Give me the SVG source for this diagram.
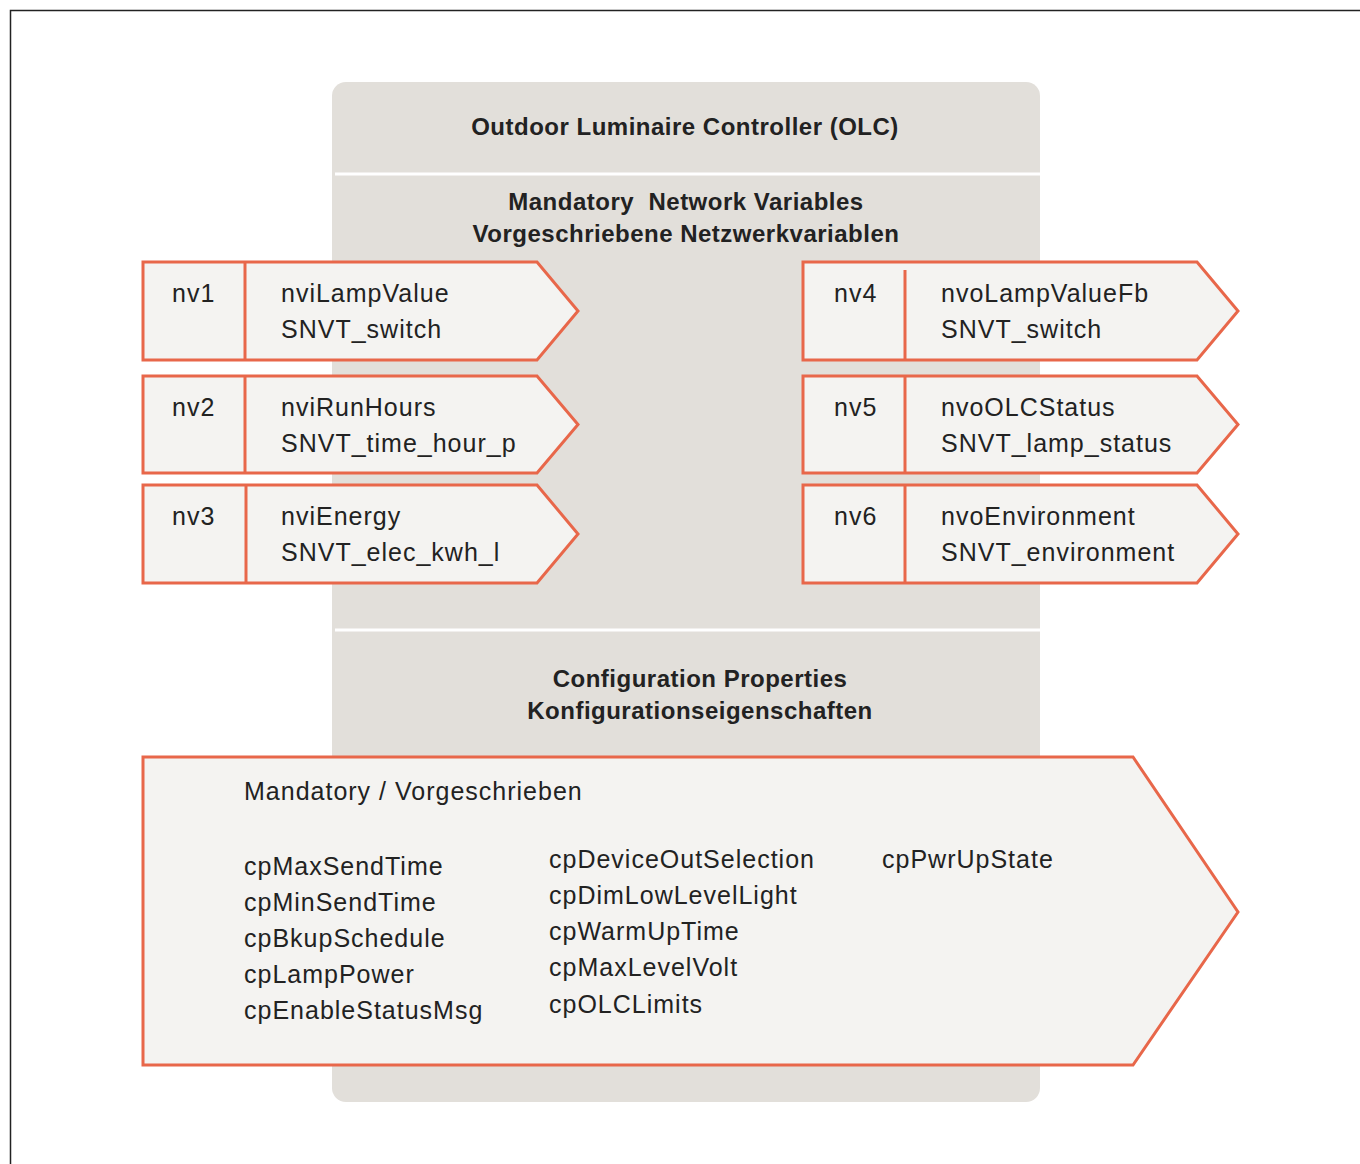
<svg xmlns="http://www.w3.org/2000/svg" width="1360" height="1164" viewBox="0 0 1360 1164">
<style>
.t{font-family:"Liberation Sans",Arial,sans-serif;font-size:25px;letter-spacing:1px;fill:#222}
.b{font-size:24px;font-weight:bold;letter-spacing:0.5px;text-anchor:middle;white-space:pre}
.n{fill:#f4f3f1;stroke:#e8674a;stroke-width:3}
.d{stroke:#e8674a;stroke-width:3}
.sep{stroke:#fff;stroke-width:3}
</style>
<rect width="1360" height="1164" fill="#fff"/>
<path d="M10.5 1164 V10.5 H1360" fill="none" stroke="#222" stroke-width="1.5"/>
<g id="olc">
<rect x="332" y="82" width="708" height="1020" rx="14" fill="#e2dfda"/>
<line class="sep" x1="335" y1="174" x2="1040" y2="174"/>
<line class="sep" x1="335" y1="630" x2="1040" y2="630"/>
<text class="t b" x="685" y="135">Outdoor Luminaire Controller (OLC)</text>
<text class="t b" x="686" y="210" xml:space="preserve">Mandatory  Network Variables</text>
<text class="t b" x="686" y="242">Vorgeschriebene Netzwerkvariablen</text>
<text class="t b" x="700" y="687">Configuration Properties</text>
<text class="t b" x="700" y="719">Konfigurationseigenschaften</text>
</g>
<g id="nv1">
<path class="n" d="M143 262 H537 L578 311 L537 360 H143 Z"/>
<line class="d" x1="245" y1="262" x2="245" y2="360"/>
<text class="t" x="172" y="302">nv1</text>
<text class="t" x="281" y="302">nviLampValue</text>
<text class="t" x="281" y="338">SNVT_switch</text>
</g>
<g id="nv2">
<path class="n" d="M143 376 H537 L578 424.5 L537 473 H143 Z"/>
<line class="d" x1="245" y1="376" x2="245" y2="473"/>
<text class="t" x="172" y="416">nv2</text>
<text class="t" x="281" y="416">nviRunHours</text>
<text class="t" x="281" y="452">SNVT_time_hour_p</text>
</g>
<g id="nv3">
<path class="n" d="M143 485 H537 L578 534 L537 583 H143 Z"/>
<line class="d" x1="246" y1="485" x2="246" y2="583"/>
<text class="t" x="172" y="525">nv3</text>
<text class="t" x="281" y="525">nviEnergy</text>
<text class="t" x="281" y="561">SNVT_elec_kwh_l</text>
</g>
<g id="nv4">
<path class="n" d="M803 262 H1197 L1238 311 L1197 360 H803 Z"/>
<line class="d" x1="905" y1="270" x2="905" y2="360"/>
<text class="t" x="834" y="302">nv4</text>
<text class="t" x="941" y="302">nvoLampValueFb</text>
<text class="t" x="941" y="338">SNVT_switch</text>
</g>
<g id="nv5">
<path class="n" d="M803 376 H1197 L1238 424.5 L1197 473 H803 Z"/>
<line class="d" x1="905" y1="376" x2="905" y2="473"/>
<text class="t" x="834" y="416">nv5</text>
<text class="t" x="941" y="416">nvoOLCStatus</text>
<text class="t" x="941" y="452">SNVT_lamp_status</text>
</g>
<g id="nv6">
<path class="n" d="M803 485 H1197 L1238 534 L1197 583 H803 Z"/>
<line class="d" x1="905" y1="485" x2="905" y2="583"/>
<text class="t" x="834" y="525">nv6</text>
<text class="t" x="941" y="525">nvoEnvironment</text>
<text class="t" x="941" y="561">SNVT_environment</text>
</g>
<g id="cp">
<path class="n" d="M143 757 H1133 L1238 912 L1133 1065 H143 Z"/>
<text class="t" x="244" y="800">Mandatory / Vorgeschrieben</text>
<text class="t" x="244" y="875">cpMaxSendTime</text>
<text class="t" x="244" y="911">cpMinSendTime</text>
<text class="t" x="244" y="947">cpBkupSchedule</text>
<text class="t" x="244" y="983">cpLampPower</text>
<text class="t" x="244" y="1019">cpEnableStatusMsg</text>
<text class="t" x="549" y="868">cpDeviceOutSelection</text>
<text class="t" x="549" y="904">cpDimLowLevelLight</text>
<text class="t" x="549" y="940">cpWarmUpTime</text>
<text class="t" x="549" y="976">cpMaxLevelVolt</text>
<text class="t" x="549" y="1013">cpOLCLimits</text>
<text class="t" x="882" y="868">cpPwrUpState</text>
</g>
<g id="connectors"></g>
</svg>
